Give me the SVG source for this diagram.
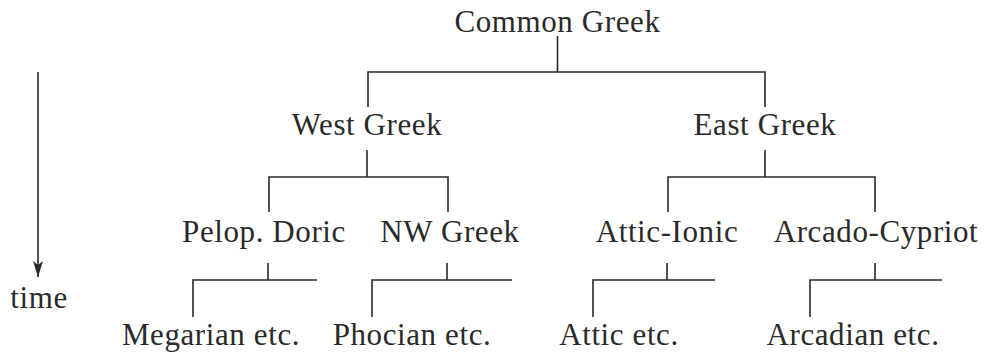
<svg xmlns="http://www.w3.org/2000/svg" width="986" height="354" viewBox="0 0 986 354">
<style>
text{font-family:"Liberation Serif","Times New Roman",serif;font-size:31px;fill:#2a2a2a;text-anchor:middle;letter-spacing:0.6px}
.c path{fill:none;stroke:#2a2a2a;stroke-width:1.6}
</style>
<defs>
<marker id="ah" markerWidth="16" markerHeight="10" refX="16" refY="5" orient="auto" markerUnits="userSpaceOnUse" viewBox="0 0 16 10">
<path d="M0,0 L16,5 L0,10 L4,5 Z" fill="#2a2a2a" stroke="none"/>
</marker>
</defs>
<rect width="986" height="354" fill="#fff"/>
<g class="c" id="connectors">
<path d="M557.5,36 V72 M368,107 V72 H765 V107"/>
<path d="M367,150 V177 M269,212 V177 H448 V212"/>
<path d="M765,150 V177 M668,212 V177 H875 V212"/>
<path d="M268,263 V280 M193,317 V280 H317"/>
<path d="M447,263 V280 M372,317 V280 H512"/>
<path d="M667,263 V280 M593,317 V280 H715"/>
<path d="M875,263 V280 M810,317 V280 H942"/>
<path d="M38,72 V277" marker-end="url(#ah)"/>
</g>
<g id="common"><text x="557.5" y="32">Common Greek</text></g>
<g id="west"><text x="367" y="135">West Greek</text></g>
<g id="east"><text x="765" y="135">East Greek</text></g>
<g id="pelop"><text x="264" y="242">Pelop. Doric</text></g>
<g id="nw"><text x="450" y="242">NW Greek</text></g>
<g id="atticionic"><text x="667" y="242">Attic-Ionic</text></g>
<g id="arcadocypriot"><text x="876" y="242">Arcado-Cypriot</text></g>
<g id="megarian"><text x="211" y="345">Megarian etc.</text></g>
<g id="phocian"><text x="412" y="345">Phocian etc.</text></g>
<g id="attic"><text x="619" y="345">Attic etc.</text></g>
<g id="arcadian"><text x="853" y="345">Arcadian etc.</text></g>
<g id="time"><text x="39" y="308">time</text></g>
</svg>
